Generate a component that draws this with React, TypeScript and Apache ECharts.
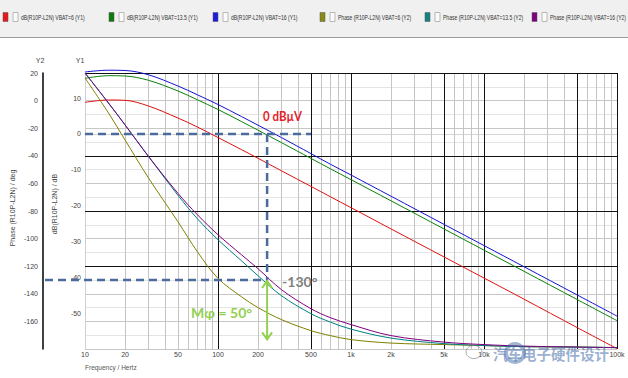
import React, { useEffect, useRef } from 'react';
import * as echarts from 'echarts';

// ---------- data ----------
const FREQ = [10, 15, 20, 30, 50, 70, 100, 150, 200, 300, 500, 700, 1000, 2000, 5000, 10000, 20000, 50000, 100000];

const DB_VBAT6 = [8.82, 9.47, 9.38, 7.79, 4.44, 1.93, -1.0, -4.37, -6.8, -10.29, -14.64, -17.52, -20.56, -26.5, -34.3, -40.2, -46.1, -54.0, -59.9];
const DB_VBAT135 = [15.52, 16.25, 16.16, 14.96, 11.98, 9.53, 6.82, 3.47, 1.04, -2.42, -6.83, -9.73, -12.75, -18.66, -26.5, -32.42, -38.33, -46.17, -52.09];
const DB_VBAT16 = [17.28, 17.78, 17.7, 16.5, 13.37, 10.92, 8.21, 4.86, 2.44, -1.02, -5.49, -8.45, -11.46, -17.38, -25.22, -31.14, -37.05, -44.89, -50.81];

const PH_VBAT6 = [16.4, -8.9, -28.5, -56.0, -87.8, -109.5, -128.8, -142.1, -150.0, -158.7, -166.7, -170.3, -173.2, -175.7, -176.8, -177.5, -178.3, -178.6, -179.0];
const PH_VBAT135 = [20.0, -1.7, -17.6, -40.4, -68.6, -85.6, -100.8, -116.0, -126.9, -141.4, -154.4, -160.5, -165.6, -172.1, -176.1, -177.5, -178.3, -178.6, -179.0];
const PH_VBAT16 = [20.0, -1.7, -17.6, -40.4, -67.2, -82.7, -97.2, -111.7, -121.8, -137.0, -150.8, -157.3, -162.3, -170.3, -175.0, -176.8, -177.9, -178.6, -179.0];

const X_LABELS = [10, 20, 50, 100, 200, 500, 1000, 2000, 5000, 10000, 100000];
const X_MAJOR_LINES = [100, 500, 1000, 5000, 10000, 50000, 100000];
const DECADES = [10, 100, 1000, 10000];
const MINOR_MULT = [2, 3, 4, 5, 6, 7, 8, 9];
const Y2_MAJOR_LINES = [20, -40, -80, -120];

const SERIES_NAMES = [
  'dB(R10P-L2N) VBAT=6 (Y1)',
  'dB(R10P-L2N) VBAT=13.5 (Y1)',
  'dB(R10P-L2N) VBAT=16 (Y1)',
  'Phase (R10P-L2N) VBAT=6 (Y2)',
  'Phase (R10P-L2N) VBAT=13.5 (Y2)',
  'Phase (R10P-L2N) VBAT=16 (Y2)',
];
const SERIES_VALUES = [DB_VBAT6, DB_VBAT135, DB_VBAT16, PH_VBAT6, PH_VBAT135, PH_VBAT16];
const SERIES_AXIS = [0, 0, 0, 1, 1, 1];
const SERIES_COLORS = ['#e01010', '#0a800a', '#1414d0', '#808000', '#008080', '#800080'];
const LEGEND_SWATCH = ['#e81818', '#0c7c0c', '#1c1ce0', '#8a8a12', '#128282', '#800080'];

// annotation values
const ZERO_DB = 0;
const DASH_END_FREQ = 500;
const CROSS_FREQ = 234;
const PHASE_AT_CROSS = -130;
const ARROW_END_PHASE = -173;

const FONT = '"Liberation Sans", Arial, sans-serif';
const BOLD_FONT = 'Lato, "Open Sans", sans-serif';

export default function App() {
  const ref = useRef<HTMLDivElement>(null);

  useEffect(() => {
    if (!ref.current) return;
    const chart = echarts.init(ref.current, undefined, { renderer: 'svg' });

    const minorX: number[] = [];
    DECADES.forEach((d) => MINOR_MULT.forEach((m) => {
      const v = d * m;
      if (X_MAJOR_LINES.indexOf(v) < 0) minorX.push(v);
    }));

    const curves = SERIES_NAMES.map((name, i) => ({
      name,
      type: 'line',
      yAxisIndex: SERIES_AXIS[i],
      data: FREQ.map((f, k) => [f, SERIES_VALUES[i][k]]),
      showSymbol: false,
      symbol: 'none',
      smooth: 0.35,
      clip: false,
      lineStyle: { color: SERIES_COLORS[i], width: 1 },
      itemStyle: { color: SERIES_COLORS[i] },
      z: 5,
      silent: true,
    }));

    const option: any = {
      animation: false,
      backgroundColor: '#ffffff',
      grid: { left: 85, top: 73, width: 532, height: 276, containLabel: false },
      xAxis: {
        type: 'log',
        logBase: 10,
        min: 10,
        max: 100000,
        axisLine: { show: true, lineStyle: { color: '#d4d4d4', width: 1 } },
        axisTick: { show: false },
        splitLine: { show: true, lineStyle: { color: '#c4c4c4', width: 1 } },
        axisLabel: {
          customValues: X_LABELS,
          formatter: (v: number) => (v >= 1000 ? v / 1000 + 'k' : String(v)),
          fontSize: 7,
          fontFamily: FONT,
          color: '#444',
          margin: 2,
        },
      },
      yAxis: [
        {
          type: 'value',
          position: 'left',
          min: -60,
          max: 17,
          interval: 10,
          axisLine: { show: true, lineStyle: { color: '#d0d0d0', width: 1 } },
          axisTick: { show: false },
          splitLine: { show: false },
          axisLabel: {
            formatter: (v: number) => (v % 10 === 0 && v > -60 && v <= 10 ? String(v) : ''),
            fontSize: 7,
            fontFamily: FONT,
            color: '#444',
            margin: 4,
          },
        },
        {
          type: 'value',
          position: 'left',
          offset: 42,
          min: -180,
          max: 20,
          interval: 10,
          axisLine: { show: true, onZero: false, lineStyle: { color: '#000', width: 1.5 } },
          axisTick: { show: false },
          splitLine: { show: true, lineStyle: { color: ['#c6c6c6', '#e4e4e4'], width: 1 } },
          axisLabel: {
            formatter: (v: number) => (v % 20 === 0 && v > -180 ? String(v) : ''),
            fontSize: 7,
            fontFamily: FONT,
            color: '#444',
            margin: 5,
          },
        },
      ],
      series: [
        {
          type: 'line',
          name: 'gridV',
          yAxisIndex: 0,
          data: [],
          silent: true,
          z: 1,
          markLine: {
            silent: true,
            symbol: ['none', 'none'],
            label: { show: false },
            animation: false,
            data: [
              ...minorX.map((v) => ({ xAxis: v, lineStyle: { color: '#c4c4c4', width: 1, type: 'solid' } })),
              ...X_MAJOR_LINES.map((v) => ({ xAxis: v, lineStyle: { color: '#111', width: 1, type: 'solid' } })),
            ],
          },
        },
        {
          type: 'line',
          name: 'gridH',
          yAxisIndex: 1,
          data: [],
          silent: true,
          z: 2,
          markLine: {
            silent: true,
            symbol: ['none', 'none'],
            label: { show: false },
            animation: false,
            data: Y2_MAJOR_LINES.map((v) => ({ yAxis: v, lineStyle: { color: '#111', width: 1, type: 'solid' } })),
          },
        },
        ...curves,
      ],
    };

    chart.setOption(option);

    const px = (f: number, v: number, yi: number) =>
      chart.convertToPixel({ xAxisIndex: 0, yAxisIndex: yi } as any, [f, v]) as number[];

    const a0 = px(10, ZERO_DB, 0);
    const a1 = px(DASH_END_FREQ, ZERO_DB, 0);
    const c0 = px(CROSS_FREQ, ZERO_DB, 0);
    const c1 = px(CROSS_FREQ, PHASE_AT_CROSS, 1);
    const c2 = px(CROSS_FREQ, ARROW_END_PHASE, 1);
    const y2AxisX = 85 - 42;

    const dash = { stroke: '#4a6b9c', lineWidth: 2.5, lineDash: [8, 5] };
    const green = '#92d050';

    const graphics: any[] = [];

    // legend strip
    graphics.push({ type: 'rect', shape: { x: 0, y: 0, width: 628, height: 37 }, style: { fill: '#f0f0f0' }, z: 100 });
    graphics.push({ type: 'line', shape: { x1: 0, y1: 37.5, x2: 628, y2: 37.5 }, style: { stroke: '#9a9a9a', lineWidth: 1 }, z: 100 });
    const LEGEND_X = [3, 109, 213, 320, 425, 532];
    SERIES_NAMES.forEach((name, i) => {
      const x = LEGEND_X[i];
      graphics.push({ type: 'rect', shape: { x, y: 12.5, width: 5, height: 9 }, style: { fill: LEGEND_SWATCH[i], stroke: '#555', lineWidth: 0.5 }, z: 101 });
      graphics.push({ type: 'rect', shape: { x: x + 10, y: 12.5, width: 5, height: 9 }, style: { fill: '#fafafa', stroke: '#a8a8a8', lineWidth: 0.8 }, z: 101 });
      graphics.push({
        type: 'text', x: x + 18, y: 17.5, scaleX: 0.72, z: 101,
        style: { text: name, fontSize: 7, fontFamily: FONT, fill: '#333', align: 'left', verticalAlign: 'middle' },
      });
    });

    // axis titles
    graphics.push({ type: 'text', x: 40, y: 60, style: { text: 'Y2', fontSize: 7, fontFamily: FONT, fill: '#444', align: 'center', verticalAlign: 'middle' }, z: 50 });
    graphics.push({ type: 'text', x: 80, y: 60, style: { text: 'Y1', fontSize: 7, fontFamily: FONT, fill: '#444', align: 'center', verticalAlign: 'middle' }, z: 50 });
    graphics.push({ type: 'text', x: 12, y: 208, rotation: Math.PI / 2, style: { text: 'Phase (R10P-L2N) / deg', fontSize: 7, fontFamily: FONT, fill: '#444', align: 'center', verticalAlign: 'middle' }, z: 50 });
    graphics.push({ type: 'text', x: 54, y: 204, rotation: Math.PI / 2, style: { text: 'dB(R10P-L2N) / dB', fontSize: 7, fontFamily: FONT, fill: '#444', align: 'center', verticalAlign: 'middle' }, z: 50 });
    graphics.push({ type: 'text', x: 85, y: 367, style: { text: 'Frequency / Hertz', fontSize: 6.5, fontFamily: FONT, fill: '#555', align: 'left', verticalAlign: 'middle' }, z: 50 });

    // annotations
    graphics.push({ type: 'line', shape: { x1: a0[0], y1: a0[1], x2: a1[0], y2: a1[1] }, style: dash, z: 60 });
    graphics.push({ type: 'line', shape: { x1: c0[0], y1: c0[1], x2: c1[0], y2: c1[1] }, style: dash, z: 60 });
    graphics.push({ type: 'line', shape: { x1: y2AxisX + 2, y1: c1[1], x2: c1[0], y2: c1[1] }, style: dash, z: 60 });
    graphics.push({ type: 'line', shape: { x1: c1[0], y1: c1[1] + 1, x2: c2[0], y2: c2[1] }, style: { stroke: green, lineWidth: 2 }, z: 61 });
    graphics.push({ type: 'polyline', shape: { points: [[c1[0] - 5, c1[1] + 8], [c1[0], c1[1] + 1], [c1[0] + 5, c1[1] + 8]] }, style: { stroke: green, lineWidth: 2, fill: 'none' }, z: 61 });
    graphics.push({ type: 'polyline', shape: { points: [[c2[0] - 5, c2[1] - 7], [c2[0], c2[1]], [c2[0] + 5, c2[1] - 7]] }, style: { stroke: green, lineWidth: 2, fill: 'none' }, z: 61 });

    graphics.push({ type: 'text', x: c0[0] - 4, y: c0[1] - 18, scaleX: 0.82, style: { text: '0 dBµV', fontSize: 14, fontWeight: 'bold', fontFamily: BOLD_FONT, fill: '#e3232b', align: 'left', verticalAlign: 'middle' }, z: 62 });
    graphics.push({ type: 'text', x: c1[0] + 15, y: c1[1] + 1, style: { text: '-130°', fontSize: 14, fontWeight: 'bold', fontFamily: BOLD_FONT, fill: '#7f7f7f', align: 'left', verticalAlign: 'middle' }, z: 62 });
    graphics.push({ type: 'text', x: c1[0] - 15, y: c1[1] + 32, style: { text: 'Mφ = 50°', fontSize: 14, fontWeight: 'bold', fontFamily: BOLD_FONT, fill: green, align: 'right', verticalAlign: 'middle' }, z: 62 });

    // watermark
    graphics.push({ type: 'ellipse', shape: { cx: 474, cy: 352, rx: 8, ry: 6.5 }, style: { fill: 'none', stroke: 'rgba(120,120,120,0.6)', lineWidth: 1 }, z: 70 });
    graphics.push({ type: 'ring', shape: { cx: 515, cy: 353, r: 11, r0: 7 }, style: { fill: 'rgba(70,110,170,0.5)' }, z: 70 });
    graphics.push({ type: 'text', x: 493, y: 353, style: { text: '汽车电子硬件设计', fontSize: 14.5, fontWeight: 'bold', fontFamily: '"Noto Sans CJK SC", sans-serif', fill: 'rgba(70,110,170,0.55)', align: 'left', verticalAlign: 'middle' }, z: 70 });

    chart.setOption({ graphic: { elements: graphics } });

    return () => chart.dispose();
  }, []);

  return <div ref={ref} style={{ position: 'absolute', left: 0, top: 0, width: 628, height: 378 }} />;
}
